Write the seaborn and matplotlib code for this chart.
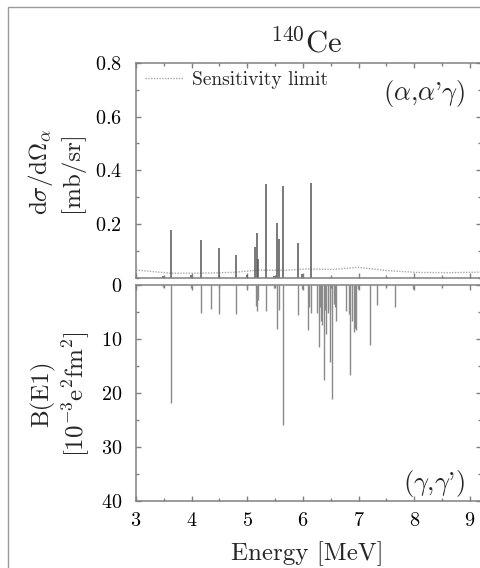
import numpy as np
import pandas as pd
import matplotlib
matplotlib.use("Agg")
import matplotlib.pyplot as plt
from matplotlib.patches import Rectangle
from matplotlib.ticker import MultipleLocator
import seaborn as sns

# ---- data -------------------------------------------------------------
alpha_energy = [3.49, 3.63, 3.99, 4.17, 4.50, 4.79, 5.00, 5.14, 5.17, 5.20,
                5.33, 5.48, 5.53, 5.57, 5.65, 5.91, 5.99, 6.15]
alpha_xsec = [0.007, 0.177, 0.010, 0.141, 0.110, 0.085, 0.010, 0.115, 0.167, 0.068,
              0.350, 0.007, 0.204, 0.142, 0.343, 0.127, 0.012, 0.352]

sens_energy = [3.0, 3.3, 3.63, 4.15, 4.74, 5.17, 5.70, 6.06, 6.54, 6.99,
               7.50, 8.04, 8.64, 9.2]
sens_limit = [0.028, 0.022, 0.016, 0.016, 0.019, 0.027, 0.027, 0.032, 0.030, 0.038,
              0.026, 0.019, 0.018, 0.020]

gamma_energy = [3.49, 3.63, 3.99, 4.17, 4.35, 4.50, 4.79, 5.00, 5.15, 5.17,
                5.19, 5.33, 5.48, 5.53, 5.57, 5.65, 5.91, 5.99, 6.10, 6.11,
                6.15, 6.25, 6.28, 6.31, 6.33, 6.34, 6.38, 6.40, 6.42, 6.45,
                6.48, 6.49, 6.52, 6.55, 6.57, 6.60, 6.78, 6.83, 6.85, 6.88,
                6.91, 6.93, 6.96, 6.99, 7.20, 7.33, 7.49, 7.66, 7.98]
gamma_be1 = [0.4, 21.8, 0.5, 5.2, 4.4, 5.4, 5.3, 0.5, 3.9, 4.8,
             2.8, 4.9, 0.5, 8.1, 4.6, 26.0, 5.5, 0.8, 8.3, 4.0,
             5.2, 5.2, 11.5, 4.0, 6.7, 7.4, 17.6, 4.6, 9.1, 5.2,
             4.6, 14.3, 21.2, 3.6, 4.0, 6.6, 4.9, 5.3, 16.6, 6.7,
             8.7, 8.0, 8.3, 0.8, 11.1, 3.8, 0.3, 4.0, 0.8]

x_ticks = [3, 4, 5, 6, 7, 8, 9]
top_yticks = [0.2, 0.4, 0.6, 0.8]
bot_yticks = [0, 10, 20, 30, 40]

# ---- style ------------------------------------------------------------
sns.set_style("ticks")
plt.rcParams.update({
    "font.family": "serif",
    "font.serif": ["cmr10", "DejaVu Serif"],
    "mathtext.fontset": "cm",
    "axes.formatter.use_mathtext": True,
    "axes.edgecolor": "#808080",
    "axes.linewidth": 1.1,
    "xtick.color": "#808080",
    "ytick.color": "#808080",
    "xtick.labelcolor": "black",
    "ytick.labelcolor": "black",
    "xtick.direction": "in",
    "ytick.direction": "in",
})

W, H = 480, 568
fig = plt.figure(figsize=(W / 100, H / 100), dpi=100)

def frac(left, top, right, bottom):
    return [left / W, 1 - bottom / H, (right - left) / W, (bottom - top) / H]

ax1 = fig.add_axes(frac(136, 63, 481, 277.5))
ax2 = fig.add_axes(frac(136, 285, 481, 500.7))

# page border
fig.patches.append(Rectangle((8 / W, -0.2), 2.0, 1.2 - 7 / H, transform=fig.transFigure,
                             fill=False, edgecolor="#9a9a9a", linewidth=1.0))

# ---- top panel --------------------------------------------------------
sens_df = pd.DataFrame({"E": sens_energy, "limit": sens_limit})
sns.lineplot(data=sens_df, x="E", y="limit", ax=ax1, color="#a8a8a8",
             linestyle=(0, (1, 1)), linewidth=1.0, label="Sensitivity limit")
ax1.vlines(alpha_energy, 0, alpha_xsec, color="#555555", linewidth=1.1)
ax1.set_xlim(3, 9.2)
ax1.set_ylim(0, 0.8)
ax1.set_yticks(top_yticks)
ax1.yaxis.set_minor_locator(MultipleLocator(0.1))
ax1.set_xticks(x_ticks)
ax1.xaxis.set_minor_locator(MultipleLocator(0.5))
ax1.set_xticklabels([])
ax1.set_xlabel("")
ax1.set_ylabel("")
ax1.tick_params(which="both", top=True, right=True, labelsize=14.5, pad=10)
ax1.tick_params(which="major", length=3.5, width=1.0)
ax1.tick_params(which="minor", length=2.2, width=1.0)
leg = ax1.legend(loc="upper left", bbox_to_anchor=(0.026, 0.965), frameon=False,
                 fontsize=14, handlelength=1.95, handletextpad=0.45, borderaxespad=0,
                 borderpad=0)
ax1.text(0.9536, 0.86, r"($\alpha$,$\alpha$'$\gamma$)", transform=ax1.transAxes,
         ha="right", va="center", fontsize=19)

# ---- bottom panel -----------------------------------------------------
ax2.vlines(gamma_energy, 0, gamma_be1, color="#8a8a8a", linewidth=1.0)
ax2.set_xlim(3, 9.2)
ax2.set_ylim(40, 0)
ax2.set_yticks(bot_yticks)
ax2.yaxis.set_minor_locator(MultipleLocator(5))
ax2.set_xticks(x_ticks)
ax2.xaxis.set_minor_locator(MultipleLocator(0.5))
ax2.tick_params(which="both", top=True, right=True, labelsize=14.5)
ax2.tick_params(axis="y", pad=10)
ax2.tick_params(axis="x", pad=8)
ax2.tick_params(which="major", length=3.5, width=1.0)
ax2.tick_params(which="minor", length=2.2, width=1.0)
ax2.text(0.9536, 0.082, r"($\gamma$,$\gamma$')", transform=ax2.transAxes,
         ha="right", va="center", fontsize=19)

# ---- labels -----------------------------------------------------------
fig.text(306 / W, 1 - 51.7 / H, r"$^{140}$Ce", ha="center", va="baseline", fontsize=22)
fig.text(55 / W, 1 - 172 / H, "d$\\sigma$/d$\\Omega_\\alpha$\n[mb/sr]", rotation=90,
         ha="center", va="center", fontsize=18, multialignment="center", linespacing=1.2)
fig.text(61 / W, 1 - 394 / H, "B(E1)\n[10$^{-3}$e$^{2}$fm$^{2}$]", rotation=90,
         ha="center", va="center", fontsize=18, multialignment="center", linespacing=1.2)
fig.text(307 / W, 1 - 560 / H, "Energy [MeV]", ha="center", va="baseline", fontsize=18)

fig.savefig("out.png", dpi=100)
